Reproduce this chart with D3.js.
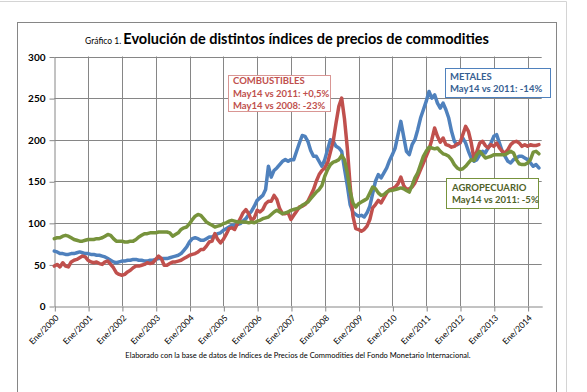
<!DOCTYPE html>
<html><head><meta charset="utf-8">
<script src="https://cdn.jsdelivr.net/npm/d3@7"></script>
<style>
html,body{margin:0;padding:0;background:#fff;}
svg{display:block;font-family:Lato,"Open Sans",sans-serif;}
</style></head>
<body>
<svg id="c" width="587" height="392"></svg>
<script>
// ---- data (monthly, Jan 2000 .. May 2014) ----
const startYear = 2000;
const yearLabels = ["Ene/2000","Ene/2001","Ene/2002","Ene/2003","Ene/2004","Ene/2005","Ene/2006","Ene/2007","Ene/2008","Ene/2009","Ene/2010","Ene/2011","Ene/2012","Ene/2013","Ene/2014"];
const yTicks = [0,50,100,150,200,250,300];

const combustibles = [
 48,50,47,52,48,47,53,55,56,58,60,59,
 55,53,52,53,51,50,53,54,50,46,40,38,
 37,38,41,43,46,48,48,49,50,52,51,52,
 56,60,57,49,49,51,53,53,54,55,57,59,
 61,62,63,65,68,68,72,77,78,87,80,76,
 80,86,93,94,92,99,105,112,116,111,103,106,
 115,113,116,123,126,126,133,128,117,111,111,112,
 104,109,114,119,120,122,126,133,140,150,158,163,
 166,172,185,198,220,240,250,225,190,145,108,93,
 92,90,92,96,104,118,122,127,124,130,136,140,
 141,143,147,155,145,140,141,143,148,156,164,172,
 180,188,200,214,204,197,202,194,193,191,192,195,
 196,206,216,210,196,176,186,196,198,193,190,194,
 192,196,190,186,184,188,194,197,198,196,192,194,
 192,194,193,193,194
];
const metales = [
 66,65,63,63,62,62,63,63,64,65,64,63,
 63,62,62,61,61,60,59,57,55,53,52,53,
 54,54,55,55,56,56,55,55,54,54,55,55,
 56,57,57,57,57,58,59,60,61,63,67,71,
 77,81,82,81,79,79,81,83,83,85,87,88,
 91,93,95,97,97,98,99,102,105,110,114,120,
 127,130,133,140,168,155,163,166,170,174,176,174,
 176,176,186,196,205,204,198,187,180,180,174,168,
 176,188,200,198,192,190,186,165,145,122,113,110,
 108,109,107,112,120,135,150,158,154,160,166,175,
 182,190,206,222,204,186,182,194,200,212,226,236,
 246,258,250,254,244,238,244,236,226,210,198,194,
 196,202,196,186,178,174,176,182,186,184,190,196,
 204,206,196,186,180,174,172,176,178,180,180,178,
 176,172,168,170,166
];
const agropecuario = [
 81,82,82,84,85,84,82,80,79,78,78,79,
 80,80,80,81,81,82,84,86,85,81,78,78,
 78,77,77,78,78,80,83,85,87,87,88,88,
 88,89,89,89,89,88,84,86,88,92,94,95,
 99,104,108,110,109,105,101,99,97,95,96,97,
 99,100,102,103,102,101,101,101,101,100,101,100,
 102,103,105,106,107,110,113,115,113,111,112,113,
 115,116,117,118,121,123,125,129,133,137,140,145,
 156,164,170,173,174,176,181,176,160,138,124,119,
 123,125,127,129,136,143,141,136,133,134,137,139,
 139,140,141,142,141,139,137,145,154,160,170,180,
 186,191,190,189,190,186,183,182,180,176,170,166,
 164,165,168,172,176,175,182,186,182,178,179,180,
 182,182,182,182,182,184,186,184,176,171,170,170,
 172,176,185,186,183
];
const seriesNames = ["COMBUSTIBLES","METALES","AGROPECUARIO"];
const seriesColors = ["#c0504d","#4f81bd","#77933c"];
const notes = [
 {lines:["COMBUSTIBLES","May14 vs 2011: +0,5%","May14 vs 2008: -23%"], text:"#c0504d", border:"#d99694"},
 {lines:["METALES","May14 vs 2011: -14%"], text:"#376092", border:"#4f81bd"},
 {lines:["AGROPECUARIO","May14 vs 2011: -5%"], text:"#4f6228", border:"#77933c"}
];
const titleSmall = "Gráfico 1.";
const titleMain = "Evolución de distintos índices de precios de commodities";
const sourceText = "Elaborado con la base de datos de Indices de Precios de Commodities del Fondo Monetario Internacional.";

// ---- drawing ----
const svg = d3.select("#c");
const nMonths = combustibles.length; // 173
const x = d3.scaleLinear().domain([0, nMonths]).range([54.3, 541.7]);
const y = d3.scaleLinear().domain([0, 300]).range([306, 56.5]);

// page edge lines
svg.append("line").attr("x1",0).attr("x2",566.5).attr("y1",1.5).attr("y2",1.5).attr("stroke","#d4d4d4");
svg.append("line").attr("x1",566.5).attr("x2",566.5).attr("y1",1.5).attr("y2",392).attr("stroke","#d4d4d4");

// outer frame
svg.append("rect").attr("x",17.5).attr("y",22.5).attr("width",539).attr("height",380)
  .attr("fill","#fff").attr("stroke","#868686").attr("stroke-width",1);

// title
const t = svg.append("text").attr("x",287).attr("y",44).attr("text-anchor","middle").attr("fill","#000");
t.append("tspan").attr("font-size",8.5).text(titleSmall + " ");
t.append("tspan").attr("font-size",14.5).attr("font-weight","bold").text(titleMain);

// gridlines
const g = svg.append("g");
g.selectAll("line.h").data(yTicks.filter(d=>d>0)).join("line")
  .attr("x1",x(0)).attr("x2",x(nMonths)).attr("y1",d=>Math.round(y(d))+0.5).attr("y2",d=>Math.round(y(d))+0.5)
  .attr("stroke","#868686").attr("stroke-width",1);
const yearIdx = yearLabels.map((_,i)=>i*12);
g.selectAll("line.v").data(yearIdx.filter(d=>d>0)).join("line")
  .attr("x1",d=>Math.round(x(d))+0.5).attr("x2",d=>Math.round(x(d))+0.5).attr("y1",y(300)).attr("y2",y(0))
  .attr("stroke","#868686").attr("stroke-width",1);

// y axis
const yAxis = d3.axisLeft(y).tickValues(yTicks).tickSize(5).tickSizeOuter(0).tickFormat(d3.format("d"));
const ya = svg.append("g").attr("transform",`translate(${Math.round(x(0))+0.5},0.5)`).call(yAxis);
ya.select(".domain").attr("stroke","#868686");
ya.selectAll(".tick line").attr("stroke","#868686");
ya.selectAll(".tick text").attr("font-family","Lato, sans-serif").attr("font-size",10).attr("font-weight","bold").attr("fill","#000").attr("x",-9);

// x axis
const xAxis = d3.axisBottom(x).tickValues(yearIdx).tickSize(5).tickSizeOuter(0).tickFormat((d,i)=>yearLabels[i]);
const xa = svg.append("g").attr("transform",`translate(0.5,${Math.round(y(0))+0.5})`).call(xAxis);
xa.select(".domain").attr("stroke","#868686");
xa.selectAll(".tick line").attr("stroke","#868686");
xa.selectAll(".tick text").attr("font-family","Lato, sans-serif").attr("font-size",8.5).attr("fill","#000")
  .attr("text-anchor","end").attr("dy",0).attr("y",0)
  .attr("transform","translate(4,12) rotate(-45)");

// lines
const line = d3.line().x((d,i)=>x(i)).y(d=>y(d)).curve(d3.curveLinear);
const allSeries = [combustibles, metales, agropecuario];
[1,0,2].forEach(k=>{
  svg.append("path").datum(allSeries[k]).attr("d",line)
    .attr("fill","none").attr("stroke",seriesColors[k]).attr("stroke-width",3.5)
    .attr("stroke-linejoin","round").attr("stroke-linecap","round");
});

// annotation boxes
const boxes = [
  {x:228.5, y:75.5, w:102, h:36, tx:233, ty:[84,97,109]},
  {x:445.5, y:68.5, w:105, h:29, tx:450, ty:[80,92]},
  {x:446.5, y:178.5, w:92, h:30, tx:452, ty:[191,203]}
];
notes.forEach((n,i)=>{
  const b = boxes[i];
  svg.append("rect").attr("x",b.x).attr("y",b.y).attr("width",b.w).attr("height",b.h)
    .attr("fill","#fff").attr("stroke",n.border).attr("stroke-width",1);
  n.lines.forEach((l,j)=>{
    svg.append("text").attr("x",b.tx).attr("y",b.ty[j]).attr("font-size",9.5).attr("font-weight","bold")
      .attr("fill",n.text).text(l);
  });
});

// source
svg.append("text").attr("x",298).attr("y",358).attr("text-anchor","middle").attr("font-size",7.5)
  .attr("fill","#000").text(sourceText);
</script>
</body></html>
